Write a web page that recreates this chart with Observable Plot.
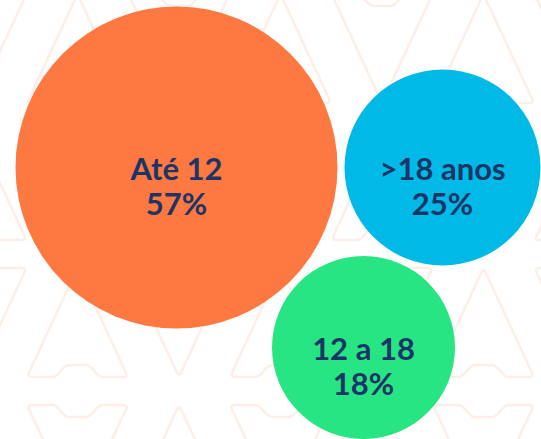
<!DOCTYPE html>
<html><head><meta charset="utf-8">
<script src="https://cdn.jsdelivr.net/npm/d3@7"></script>
<script src="https://cdn.jsdelivr.net/npm/@observablehq/plot@0.6"></script>
<style>
html,body{margin:0;padding:0;background:#fff;}
#wrap{position:relative;width:541px;height:439px;overflow:hidden;background:#fff;}
#bg{position:absolute;left:0;top:0;}
#chart{position:absolute;left:0;top:0;}
</style></head><body>
<div id="wrap"><svg id="bg" width="541" height="439"></svg><div id="chart"></div></div>
<script>
// Data
const categories = ["Até 12", ">18 anos", "12 a 18"];
const shares = [57, 25, 18];
const palette = ["#FE7941", "#00B9E7", "#27E583"];

const W = 541, H = 439;

// Decorative background pattern (outlined "A" / "V" tiles)
(function drawPattern() {
  const svg = d3.select("#bg");
  const w = 50.5, h = 109, rc = 5, arch = 12, dx = 203, dy = 137;
  function shape(cx, yTip, yBase) {
    const s = Math.sign(yBase - yTip);
    const T = [cx, yTip], R = [cx + w, yBase], L = [cx - w, yBase];
    const along = (P, Q, d) => { const len = Math.hypot(Q[0]-P[0], Q[1]-P[1]); return [P[0] + (Q[0]-P[0]) * d / len, P[1] + (Q[1]-P[1]) * d / len]; };
    const p = d3.path();
    const a0 = along(T, R, rc), a1 = along(R, T, rc), a2 = along(R, L, rc);
    const b0 = along(L, R, rc), b1 = along(L, T, rc), b2 = along(T, L, rc);
    const ya = yBase - s * arch;
    p.moveTo(...a0); p.lineTo(...a1); p.quadraticCurveTo(...R, ...a2);
    p.lineTo(cx + 25, yBase);
    p.bezierCurveTo(cx + 18, yBase, cx + 16, ya, cx + 8, ya);
    p.lineTo(cx - 8, ya);
    p.bezierCurveTo(cx - 16, ya, cx - 18, yBase, cx - 25, yBase);
    p.lineTo(...b0); p.quadraticCurveTo(...L, ...b1);
    p.lineTo(...b2); p.quadraticCurveTo(...T, ...a0);
    p.closePath();
    return p.toString();
  }
  const paths = [];
  for (let j = -1; j <= 4; j++) {
    const top = -6 + dy * j, bot = top + h;
    for (let k = -1; k <= 3; k++) {
      const c1 = 77.5 + dx * k, c2 = 179 + dx * k;
      if (j % 2 === 0) { paths.push(shape(c1, top, bot)); paths.push(shape(c2, bot, top)); }
      else { paths.push(shape(c1, bot, top)); paths.push(shape(c2, top, bot)); }
    }
  }
  svg.selectAll("path").data(paths).join("path")
    .attr("d", d => d).attr("fill", "none")
    .attr("stroke", "#FDEEE8").attr("stroke-width", 2.6);
})();

// Bubble layout
const rDomain = [18, 25, 57], rRange = [91.5, 98, 161];
const rPx = d3.scaleLinear(rDomain, rRange);
const gap = 7;
const nodes = categories.map((c, i) => ({category: c, share: shares[i], label: shares[i] + "%", r: rPx(shares[i]) + gap / 2}));
d3.packSiblings(nodes);
const first = nodes[0];
const x0 = first.x - (first.r - gap / 2) - 15;
const y0 = first.y - (first.r - gap / 2) - 6;

const chart = Plot.plot({
  width: W, height: H, margin: 0,
  x: {domain: [x0, x0 + W], axis: null},
  y: {domain: [y0, y0 + H], reverse: true, axis: null},
  r: {type: "linear", domain: rDomain, range: rRange},
  color: {domain: categories, range: palette},
  style: {background: "transparent", fontFamily: "Lato, sans-serif", overflow: "hidden"},
  marks: [
    Plot.dot(nodes, {x: "x", y: "y", r: "share", fill: "category", stroke: null}),
    Plot.text(nodes, {x: "x", y: "y", text: "category", fontSize: 31, fontWeight: 700, fill: "#1B3566", dy: 3}),
    Plot.text(nodes, {x: "x", y: "y", text: "label", fontSize: 31, fontWeight: 700, fill: "#1B3566", dy: 38})
  ]
});
document.getElementById("chart").append(chart);
</script>
</body></html>
